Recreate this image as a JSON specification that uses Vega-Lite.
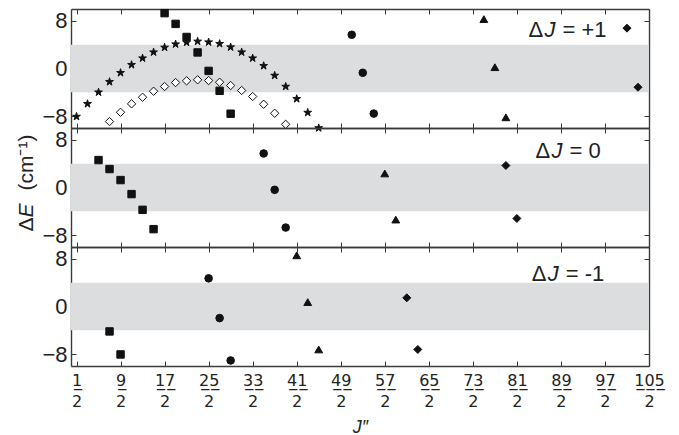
{
  "$schema": "https://vega.github.io/schema/vega-lite/v6.json",
  "padding": {"left": 15, "top": 7, "right": 5, "bottom": 0},
  "spacing": 0,
  "bounds": "flush",
  "config": {
    "font": "Liberation Sans",
    "view": {"stroke": null},
    "axis": {"domainColor": "#3a3a3a", "tickColor": "#3a3a3a", "domainWidth": 1.4, "tickWidth": 1, "tickSize": -5, "grid": false, "labelColor": "#222", "labelFont": "Liberation Sans", "titleFont": "Liberation Sans", "titleColor": "#222"}
  },
  "datasets": {
    "pts": [
      {"p": "+1", "s": "sq", "n": 17, "v": 9.3},
      {"p": "+1", "s": "sq", "n": 19, "v": 7.5},
      {"p": "+1", "s": "sq", "n": 21, "v": 5.3},
      {"p": "+1", "s": "sq", "n": 23, "v": 2.7},
      {"p": "+1", "s": "sq", "n": 25, "v": -0.4},
      {"p": "+1", "s": "sq", "n": 27, "v": -3.75},
      {"p": "+1", "s": "sq", "n": 29, "v": -7.6},
      {"p": "+1", "s": "st", "n": 1, "v": -8.08},
      {"p": "+1", "s": "st", "n": 3, "v": -5.94},
      {"p": "+1", "s": "st", "n": 5, "v": -3.99},
      {"p": "+1", "s": "st", "n": 7, "v": -2.24},
      {"p": "+1", "s": "st", "n": 9, "v": -0.72},
      {"p": "+1", "s": "st", "n": 11, "v": 0.62},
      {"p": "+1", "s": "st", "n": 13, "v": 1.73},
      {"p": "+1", "s": "st", "n": 15, "v": 2.74},
      {"p": "+1", "s": "st", "n": 17, "v": 3.54},
      {"p": "+1", "s": "st", "n": 19, "v": 4.09},
      {"p": "+1", "s": "st", "n": 21, "v": 4.38},
      {"p": "+1", "s": "st", "n": 23, "v": 4.55},
      {"p": "+1", "s": "st", "n": 25, "v": 4.43},
      {"p": "+1", "s": "st", "n": 27, "v": 4.16},
      {"p": "+1", "s": "st", "n": 29, "v": 3.59},
      {"p": "+1", "s": "st", "n": 31, "v": 2.74},
      {"p": "+1", "s": "st", "n": 33, "v": 1.73},
      {"p": "+1", "s": "st", "n": 35, "v": 0.45},
      {"p": "+1", "s": "st", "n": 37, "v": -1.18},
      {"p": "+1", "s": "st", "n": 39, "v": -3.03},
      {"p": "+1", "s": "st", "n": 41, "v": -5.1},
      {"p": "+1", "s": "st", "n": 43, "v": -7.41},
      {"p": "+1", "s": "st", "n": 45, "v": -10},
      {"p": "+1", "s": "od", "n": 7, "v": -8.92},
      {"p": "+1", "s": "od", "n": 9, "v": -7.36},
      {"p": "+1", "s": "od", "n": 11, "v": -5.94},
      {"p": "+1", "s": "od", "n": 13, "v": -4.83},
      {"p": "+1", "s": "od", "n": 15, "v": -3.82},
      {"p": "+1", "s": "od", "n": 17, "v": -3.03},
      {"p": "+1", "s": "od", "n": 19, "v": -2.36},
      {"p": "+1", "s": "od", "n": 21, "v": -2.07},
      {"p": "+1", "s": "od", "n": 23, "v": -1.9},
      {"p": "+1", "s": "od", "n": 25, "v": -2.02},
      {"p": "+1", "s": "od", "n": 27, "v": -2.31},
      {"p": "+1", "s": "od", "n": 29, "v": -2.86},
      {"p": "+1", "s": "od", "n": 31, "v": -3.7},
      {"p": "+1", "s": "od", "n": 33, "v": -4.71},
      {"p": "+1", "s": "od", "n": 35, "v": -6.01},
      {"p": "+1", "s": "od", "n": 37, "v": -7.52},
      {"p": "+1", "s": "od", "n": 39, "v": -9.38},
      {"p": "+1", "s": "ci", "n": 51, "v": 5.67},
      {"p": "+1", "s": "ci", "n": 53, "v": -0.72},
      {"p": "+1", "s": "ci", "n": 55, "v": -7.58},
      {"p": "+1", "s": "tr", "n": 75, "v": 8.3},
      {"p": "+1", "s": "tr", "n": 77, "v": 0.22},
      {"p": "+1", "s": "tr", "n": 79, "v": -8.2},
      {"p": "+1", "s": "di", "n": 101, "v": 6.78},
      {"p": "+1", "s": "di", "n": 103, "v": -3.15},
      {"p": "0", "s": "sq", "n": 5, "v": 4.61},
      {"p": "0", "s": "sq", "n": 7, "v": 3.1},
      {"p": "0", "s": "sq", "n": 9, "v": 1.25},
      {"p": "0", "s": "sq", "n": 11, "v": -1.11},
      {"p": "0", "s": "sq", "n": 13, "v": -3.75},
      {"p": "0", "s": "sq", "n": 15, "v": -7.0},
      {"p": "0", "s": "ci", "n": 35, "v": 5.72},
      {"p": "0", "s": "ci", "n": 37, "v": -0.39},
      {"p": "0", "s": "ci", "n": 39, "v": -6.73},
      {"p": "0", "s": "tr", "n": 57, "v": 2.36},
      {"p": "0", "s": "tr", "n": 59, "v": -5.39},
      {"p": "0", "s": "di", "n": 79, "v": 3.7},
      {"p": "0", "s": "di", "n": 81, "v": -5.2},
      {"p": "-1", "s": "sq", "n": 7, "v": -4.19},
      {"p": "-1", "s": "sq", "n": 9, "v": -8.06},
      {"p": "-1", "s": "ci", "n": 25, "v": 4.73},
      {"p": "-1", "s": "ci", "n": 27, "v": -1.95},
      {"p": "-1", "s": "ci", "n": 29, "v": -9.07},
      {"p": "-1", "s": "tr", "n": 41, "v": 8.6},
      {"p": "-1", "s": "tr", "n": 43, "v": 0.74},
      {"p": "-1", "s": "tr", "n": 45, "v": -7.22},
      {"p": "-1", "s": "di", "n": 61, "v": 1.46},
      {"p": "-1", "s": "di", "n": 63, "v": -7.22}
    ],
    "lab": [
      {"p": "+1", "n": 83.1, "v": 6.5, "t1": "Δ", "t2": "J", "t3": "= +1"},
      {"p": "0", "n": 84.4, "v": 6.1, "t1": "Δ", "t2": "J", "t3": "= 0"},
      {"p": "-1", "n": 83.7, "v": 5.5, "t1": "Δ", "t2": "J", "t3": "= -1"}
    ],
    "band": [{"lo": -4, "hi": 4}],
    "ytitle": [{"n": -8, "v": 0, "a": "Δ", "b": "E", "c": "(cm⁻¹)"}]
  },
  "vconcat": [
    {
      "width": 578, "height": 119,
      "layer": [
        {"data": {"name": "band"}, "mark": {"type": "rect", "color": "#dcdddf"},
         "encoding": {"y": {"field": "lo", "type": "quantitative", "scale": {"domain": [-10, 10], "nice": false, "zero": false}, "axis": {"orient": "left", "values": [-8, 0, 8], "title": null, "labelFontSize": 22, "labelPadding": 9}}, "y2": {"field": "hi"}}},
        {"data": {"name": "pts"}, "transform": [{"filter": "datum.p === '+1'"}],
         "mark": {"type": "point", "filled": true, "stroke": "#111", "strokeWidth": 1, "opacity": 1},
         "encoding": {
           "x": {"field": "n", "type": "quantitative", "scale": {"domain": [0, 105], "nice": false, "zero": false}, "axis": {"orient": "bottom", "values": [1, 9, 17, 25, 33, 41, 49, 57, 65, 73, 81, 89, 97, 105], "labels": false, "title": null}},
           "y": {"field": "v", "type": "quantitative", "scale": {"domain": [-10, 10], "nice": false, "zero": false}, "axis": {"orient": "right", "values": [-8, 0, 8], "labels": false, "title": null}},
           "shape": {"field": "s", "type": "nominal", "scale": {"domain": ["sq", "ci", "tr", "di", "st", "od"], "range": ["square", "circle", "triangle-up", "diamond", "M0,-1L0.2234,-0.3074L0.9511,-0.309L0.3614,0.1174L0.5878,0.809L0,0.38L-0.5878,0.809L-0.3614,0.1174L-0.9511,-0.309L-0.2234,-0.3074Z", "diamond"]}, "legend": null},
           "fill": {"field": "s", "type": "nominal", "scale": {"domain": ["sq", "ci", "tr", "di", "st", "od"], "range": ["#111", "#111", "#111", "#111", "#111", "#ffffff"]}, "legend": null},
           "size": {"field": "s", "type": "ordinal", "scale": {"domain": ["sq", "ci", "tr", "di", "st", "od"], "range": [55, 70, 40, 35, 60, 35]}, "legend": null}
         }},
        {"data": {"name": "lab"}, "transform": [{"filter": "datum.p === '+1'"}],
         "mark": {"type": "text", "align": "left", "baseline": "middle", "fontSize": 22, "color": "#222"},
         "encoding": {"x": {"field": "n", "type": "quantitative", "scale": {"domain": [0, 105], "nice": false, "zero": false}, "axis": {"orient": "top", "values": [1, 9, 17, 25, 33, 41, 49, 57, 65, 73, 81, 89, 97, 105], "labels": false, "title": null}}, "y": {"field": "v", "type": "quantitative", "axis": null}, "text": {"field": "t1"}}},
        {"data": {"name": "lab"}, "transform": [{"filter": "datum.p === '+1'"}],
         "mark": {"type": "text", "align": "left", "baseline": "middle", "fontSize": 22, "fontStyle": "italic", "dx": 16, "color": "#222"},
         "encoding": {"x": {"field": "n", "type": "quantitative", "axis": null}, "y": {"field": "v", "type": "quantitative", "axis": null}, "text": {"field": "t2"}}},
        {"data": {"name": "lab"}, "transform": [{"filter": "datum.p === '+1'"}],
         "mark": {"type": "text", "align": "left", "baseline": "middle", "fontSize": 22, "dx": 34, "color": "#222"},
         "encoding": {"x": {"field": "n", "type": "quantitative", "axis": null}, "y": {"field": "v", "type": "quantitative", "axis": null}, "text": {"field": "t3"}}}
      ],
      "resolve": {"axis": {"x": "independent", "y": "independent"}}
    },
    {
      "width": 578, "height": 119,
      "layer": [
        {"data": {"name": "band"}, "mark": {"type": "rect", "color": "#dcdddf"},
         "encoding": {"y": {"field": "lo", "type": "quantitative", "scale": {"domain": [-10, 10], "nice": false, "zero": false}, "axis": {"orient": "left", "values": [-8, 0, 8], "title": null, "labelFontSize": 22, "labelPadding": 9}}, "y2": {"field": "hi"}}},
        {"data": {"name": "pts"}, "transform": [{"filter": "datum.p === '0'"}],
         "mark": {"type": "point", "filled": true, "stroke": "#111", "strokeWidth": 1, "opacity": 1},
         "encoding": {
           "x": {"field": "n", "type": "quantitative", "scale": {"domain": [0, 105], "nice": false, "zero": false}, "axis": {"orient": "bottom", "values": [1, 9, 17, 25, 33, 41, 49, 57, 65, 73, 81, 89, 97, 105], "labels": false, "title": null}},
           "y": {"field": "v", "type": "quantitative", "scale": {"domain": [-10, 10], "nice": false, "zero": false}, "axis": {"orient": "right", "values": [-8, 0, 8], "labels": false, "title": null}},
           "shape": {"field": "s", "type": "nominal", "scale": {"domain": ["sq", "ci", "tr", "di", "st", "od"], "range": ["square", "circle", "triangle-up", "diamond", "M0,-1L0.2234,-0.3074L0.9511,-0.309L0.3614,0.1174L0.5878,0.809L0,0.38L-0.5878,0.809L-0.3614,0.1174L-0.9511,-0.309L-0.2234,-0.3074Z", "diamond"]}, "legend": null},
           "fill": {"field": "s", "type": "nominal", "scale": {"domain": ["sq", "ci", "tr", "di", "st", "od"], "range": ["#111", "#111", "#111", "#111", "#111", "#ffffff"]}, "legend": null},
           "size": {"field": "s", "type": "ordinal", "scale": {"domain": ["sq", "ci", "tr", "di", "st", "od"], "range": [55, 70, 40, 35, 60, 35]}, "legend": null}
         }},
        {"data": {"name": "lab"}, "transform": [{"filter": "datum.p === '0'"}],
         "mark": {"type": "text", "align": "left", "baseline": "middle", "fontSize": 22, "color": "#222"},
         "encoding": {"x": {"field": "n", "type": "quantitative", "scale": {"domain": [0, 105], "nice": false, "zero": false}, "axis": {"orient": "top", "values": [1, 9, 17, 25, 33, 41, 49, 57, 65, 73, 81, 89, 97, 105], "labels": false, "title": null}}, "y": {"field": "v", "type": "quantitative", "axis": null}, "text": {"field": "t1"}}},
        {"data": {"name": "lab"}, "transform": [{"filter": "datum.p === '0'"}],
         "mark": {"type": "text", "align": "left", "baseline": "middle", "fontSize": 22, "fontStyle": "italic", "dx": 16, "color": "#222"},
         "encoding": {"x": {"field": "n", "type": "quantitative", "axis": null}, "y": {"field": "v", "type": "quantitative", "axis": null}, "text": {"field": "t2"}}},
        {"data": {"name": "lab"}, "transform": [{"filter": "datum.p === '0'"}],
         "mark": {"type": "text", "align": "left", "baseline": "middle", "fontSize": 22, "dx": 34, "color": "#222"},
         "encoding": {"x": {"field": "n", "type": "quantitative", "axis": null}, "y": {"field": "v", "type": "quantitative", "axis": null}, "text": {"field": "t3"}}},
        {"data": {"name": "ytitle"},
         "mark": {"type": "text", "align": "left", "baseline": "middle", "fontSize": 21, "angle": 270, "dx": -44, "color": "#222"},
         "encoding": {"x": {"field": "n", "type": "quantitative", "axis": null}, "y": {"field": "v", "type": "quantitative", "axis": null}, "text": {"field": "a"}}},
        {"data": {"name": "ytitle"},
         "mark": {"type": "text", "align": "left", "baseline": "middle", "fontSize": 21, "angle": 270, "dx": -30, "fontStyle": "italic", "color": "#222"},
         "encoding": {"x": {"field": "n", "type": "quantitative", "axis": null}, "y": {"field": "v", "type": "quantitative", "axis": null}, "text": {"field": "b"}}},
        {"data": {"name": "ytitle"},
         "mark": {"type": "text", "align": "left", "baseline": "middle", "fontSize": 21, "angle": 270, "dx": -3, "color": "#222"},
         "encoding": {"x": {"field": "n", "type": "quantitative", "axis": null}, "y": {"field": "v", "type": "quantitative", "axis": null}, "text": {"field": "c"}}}
      ],
      "resolve": {"axis": {"x": "independent", "y": "independent"}}
    },
    {
      "width": 578, "height": 119,
      "layer": [
        {"data": {"name": "band"}, "mark": {"type": "rect", "color": "#dcdddf"},
         "encoding": {"y": {"field": "lo", "type": "quantitative", "scale": {"domain": [-10, 10], "nice": false, "zero": false}, "axis": {"orient": "left", "values": [-8, 0, 8], "title": null, "labelFontSize": 22, "labelPadding": 9}}, "y2": {"field": "hi"}}},
        {"data": {"name": "pts"}, "transform": [{"filter": "datum.p === '-1'"}],
         "mark": {"type": "point", "filled": true, "stroke": "#111", "strokeWidth": 1, "opacity": 1},
         "encoding": {
           "x": {"field": "n", "type": "quantitative", "scale": {"domain": [0, 105], "nice": false, "zero": false}, "axis": {"orient": "bottom", "values": [1, 9, 17, 25, 33, 41, 49, 57, 65, 73, 81, 89, 97, 105], "labelExpr": "[replace(datum.label, regexp('([0-9])', 'g'), '$1̲'), '2']", "labelFont": "DejaVu Sans", "labelFontSize": 16, "labelLineHeight": 21, "labelPadding": 11, "labelFlush": false, "labelOverlap": false, "title": "J″", "titleFontStyle": "italic", "titleFontWeight": "normal", "titleFontSize": 18, "titlePadding": 9}},
           "y": {"field": "v", "type": "quantitative", "scale": {"domain": [-10, 10], "nice": false, "zero": false}, "axis": {"orient": "right", "values": [-8, 0, 8], "labels": false, "title": null}},
           "shape": {"field": "s", "type": "nominal", "scale": {"domain": ["sq", "ci", "tr", "di", "st", "od"], "range": ["square", "circle", "triangle-up", "diamond", "M0,-1L0.2234,-0.3074L0.9511,-0.309L0.3614,0.1174L0.5878,0.809L0,0.38L-0.5878,0.809L-0.3614,0.1174L-0.9511,-0.309L-0.2234,-0.3074Z", "diamond"]}, "legend": null},
           "fill": {"field": "s", "type": "nominal", "scale": {"domain": ["sq", "ci", "tr", "di", "st", "od"], "range": ["#111", "#111", "#111", "#111", "#111", "#ffffff"]}, "legend": null},
           "size": {"field": "s", "type": "ordinal", "scale": {"domain": ["sq", "ci", "tr", "di", "st", "od"], "range": [55, 70, 40, 35, 60, 35]}, "legend": null}
         }},
        {"data": {"name": "lab"}, "transform": [{"filter": "datum.p === '-1'"}],
         "mark": {"type": "text", "align": "left", "baseline": "middle", "fontSize": 22, "color": "#222"},
         "encoding": {"x": {"field": "n", "type": "quantitative", "scale": {"domain": [0, 105], "nice": false, "zero": false}, "axis": {"orient": "top", "values": [1, 9, 17, 25, 33, 41, 49, 57, 65, 73, 81, 89, 97, 105], "labels": false, "title": null}}, "y": {"field": "v", "type": "quantitative", "axis": null}, "text": {"field": "t1"}}},
        {"data": {"name": "lab"}, "transform": [{"filter": "datum.p === '-1'"}],
         "mark": {"type": "text", "align": "left", "baseline": "middle", "fontSize": 22, "fontStyle": "italic", "dx": 16, "color": "#222"},
         "encoding": {"x": {"field": "n", "type": "quantitative", "axis": null}, "y": {"field": "v", "type": "quantitative", "axis": null}, "text": {"field": "t2"}}},
        {"data": {"name": "lab"}, "transform": [{"filter": "datum.p === '-1'"}],
         "mark": {"type": "text", "align": "left", "baseline": "middle", "fontSize": 22, "dx": 34, "color": "#222"},
         "encoding": {"x": {"field": "n", "type": "quantitative", "axis": null}, "y": {"field": "v", "type": "quantitative", "axis": null}, "text": {"field": "t3"}}}
      ],
      "resolve": {"axis": {"x": "independent", "y": "independent"}}
    }
  ]
}
